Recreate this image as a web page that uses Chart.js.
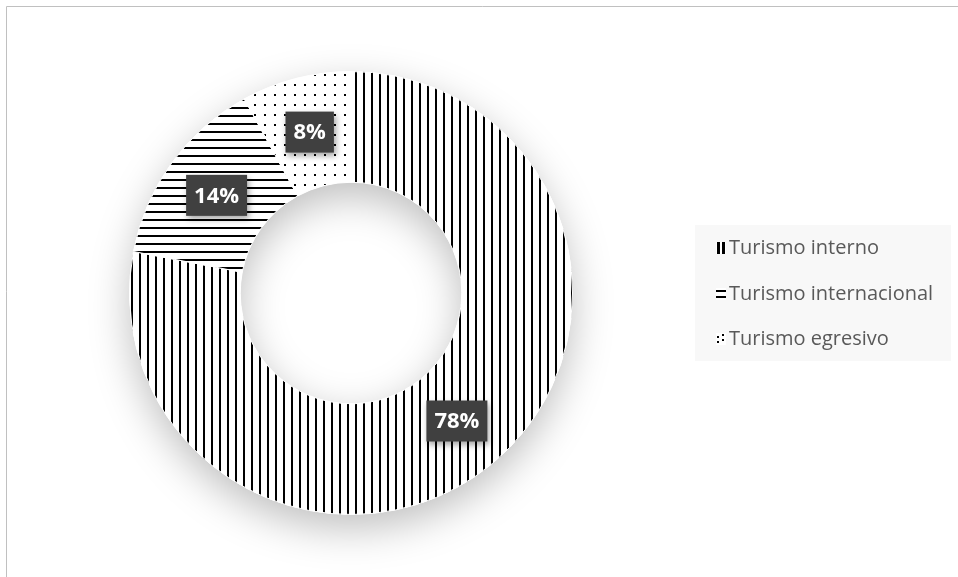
<!DOCTYPE html>
<html>
<head>
<meta charset="utf-8">
<script src="https://cdn.jsdelivr.net/npm/chart.js@4"></script>
<style>
  html, body { margin: 0; padding: 0; background: #fff; }
  #wrap { width: 958px; height: 577px; }
</style>
</head>
<body>
<div id="wrap"><canvas id="chart" width="958" height="577"></canvas></div>
<script>
const labels = ['Turismo interno', 'Turismo internacional', 'Turismo egresivo'];
const values = [78, 14, 8];
const valueLabels = ['78%', '14%', '8%'];

const FONT = "'Open Sans', 'Noto Sans', sans-serif";

// little tiles for the fills
function makePattern(kind) {
  const c = document.createElement('canvas');
  const size = kind === 'dots' ? 10 : 8;
  c.width = size; c.height = size;
  const g = c.getContext('2d');
  g.fillStyle = '#fff';
  g.fillRect(0, 0, size, size);
  g.fillStyle = '#000';
  if (kind === 'vertical') g.fillRect(3, 0, 2, size);
  if (kind === 'horizontal') g.fillRect(0, 3, size, 2);
  if (kind === 'dots') g.fillRect(4, 4, 2, 2);
  return g.createPattern(c, 'repeat');
}

const patterns = [makePattern('vertical'), makePattern('horizontal'), makePattern('dots')];

const framePlugin = {
  id: 'frame',
  beforeDraw(chart) {
    const ctx = chart.ctx;
    ctx.save();
    ctx.strokeStyle = '#c0c0c0';
    ctx.lineWidth = 1;
    ctx.beginPath();
    ctx.moveTo(6.5, 577);
    ctx.lineTo(6.5, 6.5);
    ctx.lineTo(958, 6.5);
    ctx.stroke();
    ctx.restore();
  }
};

// soft shadow under the whole ring
const ringShadow = {
  id: 'ringShadow',
  beforeDatasetsDraw(chart) {
    const arc = chart.getDatasetMeta(0).data[0];
    if (!arc) return;
    const { x, y, outerRadius, innerRadius } = arc.getProps(['x', 'y', 'outerRadius', 'innerRadius'], true);
    const ctx = chart.ctx;
    ctx.save();
    ctx.shadowColor = 'rgba(0,0,0,0.25)';
    ctx.shadowBlur = 40;
    ctx.shadowOffsetY = 14;
    ctx.fillStyle = '#fff';
    ctx.beginPath();
    ctx.arc(x, y, outerRadius, 0, Math.PI * 2);
    ctx.arc(x, y, innerRadius, Math.PI * 2, 0, true);
    ctx.fill('evenodd');
    ctx.restore();
  }
};

const valueBoxes = {
  id: 'valueBoxes',
  afterDatasetsDraw(chart) {
    const ctx = chart.ctx;
    const meta = chart.getDatasetMeta(0);
    ctx.save();
    ctx.font = 'bold 22px ' + FONT;
    ctx.textAlign = 'center';
    ctx.textBaseline = 'middle';
    meta.data.forEach((el, i) => {
      const p = el.tooltipPosition();
      const text = valueLabels[i];
      const w = ctx.measureText(text).width + 16;
      const h = 41;
      ctx.save();
      ctx.shadowColor = 'rgba(0,0,0,0.35)';
      ctx.shadowBlur = 6;
      ctx.shadowOffsetX = 2;
      ctx.shadowOffsetY = 3;
      ctx.fillStyle = '#404040';
      ctx.fillRect(p.x - w / 2, p.y - h / 2, w, h);
      ctx.restore();
      ctx.fillStyle = '#fff';
      ctx.fillText(text, p.x, p.y + 1);
    });
    ctx.restore();
  }
};

// swatch glyphs like the reference: II, =, ::
function drawSwatch(ctx, i, x, y) {
  ctx.fillStyle = '#fff';
  ctx.fillRect(x, y, 10, 12);
  ctx.fillStyle = '#000';
  if (i === 0) { ctx.fillRect(x + 1, y, 3, 12); ctx.fillRect(x + 6, y, 3, 12); }
  if (i === 1) { ctx.fillRect(x, y + 2, 10, 2); ctx.fillRect(x, y + 8, 10, 2); }
  if (i === 2) {
    ctx.fillRect(x + 1, y + 3, 2, 2); ctx.fillRect(x + 6, y + 1, 2, 2);
    ctx.fillRect(x + 1, y + 8, 2, 2); ctx.fillRect(x + 6, y + 6, 2, 2);
  }
}

const sideLegend = {
  id: 'sideLegend',
  afterDraw(chart) {
    const ctx = chart.ctx;
    ctx.save();
    ctx.fillStyle = '#f8f8f8';
    ctx.fillRect(695, 225, 256, 136);
    ctx.font = '20px ' + FONT;
    ctx.textBaseline = 'middle';
    ctx.textAlign = 'left';
    const rows = [248, 294, 339];
    labels.forEach((lab, i) => {
      drawSwatch(ctx, i, 716, rows[i] - 6);
      ctx.fillStyle = '#595959';
      ctx.fillText(lab, 729, rows[i]);
    });
    ctx.restore();
  }
};

new Chart(document.getElementById('chart'), {
  type: 'doughnut',
  data: {
    labels,
    datasets: [{
      data: values,
      backgroundColor: patterns,
      borderColor: '#ffffff',
      borderWidth: 1,
    }],
  },
  options: {
    responsive: false,
    animation: false,
    cutout: '50%',
    layout: { padding: { left: 129, right: 385, top: 71, bottom: 62 } },
    plugins: {
      legend: { display: false },
      tooltip: { enabled: false },
    },
  },
  plugins: [framePlugin, ringShadow, valueBoxes, sideLegend],
});
</script>
</body>
</html>
